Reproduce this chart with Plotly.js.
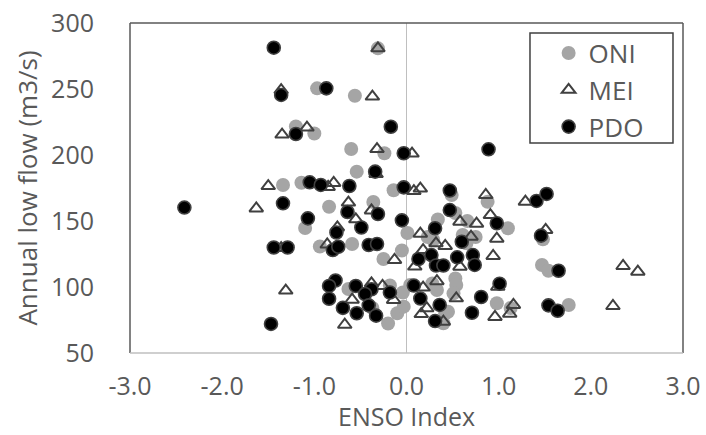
<!DOCTYPE html>
<html>
<head>
<meta charset="utf-8">
<script src="https://cdn.plot.ly/plotly-3.0.1.min.js"></script>
<style>html,body{margin:0;padding:0;background:#fff;}#chart{width:706px;height:435px;}</style>
</head>
<body>
<div id="chart"></div>
<script>
// ONI (gray circles)
const oniX = [-0.31,-0.97,-0.56,-1.20,-1.00,-0.60,-0.24,-0.54,-1.34,-1.14,-0.84,-0.36,-0.14,-1.10,-0.94,-0.59,-0.25,-0.05,0.01,-0.63,-0.18,-0.04,-0.10,-0.20,-0.37,0.34,0.49,0.53,0.66,0.88,1.10,1.48,1.47,1.54,1.76,0.61,0.29,0.53,0.54,0.28,0.33,0.98,1.13,0.42,0.40,0.51,0.04,-0.03,0.75,0.23,0.65,0.45];
const oniY = [280.8,250.5,244.9,221.6,216.3,204.5,201.3,187.4,177.3,179.0,160.8,164.4,173.3,144.7,130.7,132.6,121.2,127.7,140.9,98.5,101.1,95.8,80.1,72.3,84.1,151.1,169.7,156.1,150.0,164.6,144.5,136.1,116.7,112.3,86.4,139.4,135.6,106.4,101.5,102.7,97.7,87.7,84.1,80.1,72.5,95.2,101.5,85.1,137.9,137.9,133.1,81.3];

// MEI (open triangles)
const meiX = [-0.31,-1.36,-0.37,-1.35,-1.08,-0.32,0.06,-0.33,-1.50,-1.63,-0.85,-0.79,-0.63,-0.38,-0.55,-0.75,-0.86,-1.36,-1.31,0.08,0.15,0.86,1.29,1.51,0.58,0.76,0.91,0.15,0.70,0.98,0.32,0.42,0.18,-0.13,0.09,0.58,0.94,2.35,2.51,0.33,0.18,-0.26,-0.38,0.99,0.54,-0.14,-0.59,0.22,0.16,1.16,1.12,0.96,0.40,2.24,-0.67];
const meiY = [280.8,249.2,244.3,215.5,220.8,204.5,201.1,185.6,176.5,159.5,175.8,178.8,164.0,158.0,151.3,145.1,132.2,129.5,97.3,172.7,174.6,169.7,164.6,143.2,149.5,148.0,154.5,140.4,138.1,136.6,133.1,131.1,128.0,120.5,115.5,115.4,123.5,115.9,111.6,104.4,99.6,100.8,102.8,100.2,91.4,90.2,90.4,83.9,79.5,86.4,79.8,77.3,73.7,85.6,71.4];

// PDO (black circles)
const pdoX = [-1.44,-1.36,-0.87,-1.20,-0.17,-0.03,0.89,-0.34,-1.05,-0.93,-0.62,-0.03,-2.41,-1.34,-1.07,-0.64,-0.31,-0.49,-0.76,-0.05,-1.44,-1.29,-0.80,-0.74,-0.41,-0.32,0.47,0.47,0.31,0.98,0.60,1.41,1.52,1.46,0.13,0.27,0.32,0.40,0.55,0.72,0.74,1.65,-0.77,-0.84,-0.84,-0.55,-0.38,-0.45,-0.18,-0.69,-0.41,-0.54,-0.33,0.08,0.15,1.01,0.81,0.36,0.71,0.31,1.54,1.64,-1.47];
const pdoY = [281.3,245.5,250.5,215.9,221.4,201.3,204.3,187.4,179.3,177.3,176.5,175.5,160.2,163.4,152.0,156.8,155.3,145.1,141.3,150.5,129.9,129.9,128.0,130.5,131.8,132.6,173.1,158.3,144.5,148.3,134.3,165.2,170.5,138.9,121.2,124.2,116.3,116.3,122.5,124.2,116.7,112.3,104.9,100.8,91.1,100.8,98.3,94.7,95.8,84.2,86.1,80.1,78.3,101.1,91.3,102.5,92.4,86.4,80.5,74.2,86.1,82.0,72.0];

const seriesNames = ['ONI','MEI','PDO'];
const xTicks = [-3,-2,-1,0,1,2,3];
const xTickLabels = ['-3.0','-2.0','-1.0','0.0','1.0','2.0','3.0'];
const yTicks = [50,100,150,200,250,300];
const yTickLabels = ['50','100','150','200','250','300'];
const xTitle = 'ENSO Index';
const yTitle = 'Annual low flow (m3/s)';

const FONT = '"Open Sans", "Noto Sans", sans-serif';
const TXT = '#595959';

const traces = [
  {x: oniX, y: oniY, name: seriesNames[0], type: 'scatter', mode: 'markers',
   marker: {symbol: 'circle', size: 14, color: '#A5A5A5', line: {width: 0}}},
  {x: meiX, y: meiY, name: seriesNames[1], type: 'scatter', mode: 'markers',
   marker: {symbol: 'triangle-up-open', size: 12, color: '#404040', line: {width: 2, color: '#404040'}}},
  {x: pdoX, y: pdoY, name: seriesNames[2], type: 'scatter', mode: 'markers',
   marker: {symbol: 'circle', size: 13, color: '#000000', line: {width: 1.6, color: '#404040'}}}
];

const layout = {
  width: 706, height: 435,
  margin: {l: 130, r: 23, t: 23, b: 82},
  paper_bgcolor: '#fff', plot_bgcolor: '#fff',
  font: {family: FONT, color: TXT, size: 26},
  showlegend: true,
  legend: {x: 0.757, y: 0.98, xanchor: 'left', yanchor: 'top', bgcolor: 'rgba(0,0,0,0)',
           borderwidth: 0, font: {family: FONT, size: 26, color: TXT}, tracegroupgap: 0},
  xaxis: {range: [-3, 3], tickvals: xTicks, ticktext: xTickLabels, showgrid: false,
          zeroline: true, zerolinecolor: '#BFBFBF', zerolinewidth: 1.5,
          showline: false, ticks: 'outside', ticklen: 11, tickcolor: 'rgba(0,0,0,0)',
          tickfont: {family: FONT, size: 25, color: TXT}},
  yaxis: {range: [50, 300], tickvals: yTicks, ticktext: yTickLabels, showgrid: false, zeroline: false, showline: false,
          ticks: 'outside', ticklen: 30, tickcolor: 'rgba(0,0,0,0)',
          tickfont: {family: FONT, size: 25, color: TXT},
          title: {text: yTitle, font: {family: FONT, size: 26, color: TXT}, standoff: 6}},
  annotations: [
    {text: xTitle, xref: 'paper', yref: 'paper', x: 0.5, y: -0.19, xanchor: 'center', yanchor: 'middle',
     showarrow: false, font: {family: FONT, size: 25, color: TXT}}
  ],
  shapes: [
    {type: 'line', xref: 'paper', yref: 'paper', x0: 0, x1: 0, y0: 0, y1: 1, line: {color: '#595959', width: 1.5}},
    {type: 'line', xref: 'paper', yref: 'paper', x0: 0, x1: 1, y0: 1, y1: 1, line: {color: '#595959', width: 1.5}},
    {type: 'line', xref: 'paper', yref: 'paper', x0: 1, x1: 1, y0: 0, y1: 1, line: {color: '#595959', width: 1.5}},
    {type: 'line', xref: 'paper', yref: 'paper', x0: 0, x1: 1, y0: 0, y1: 0, line: {color: '#BFBFBF', width: 1.5}},
    {type: 'rect', xref: 'paper', yref: 'paper', x0: 0.7233, x1: 0.9819, y0: 0.6364, y1: 0.9697,
     line: {color: '#404040', width: 1.5}, fillcolor: 'rgba(0,0,0,0)'}
  ]
};

Plotly.newPlot('chart', traces, layout, {displayModeBar: false, staticPlot: true});
</script>
</body>
</html>
